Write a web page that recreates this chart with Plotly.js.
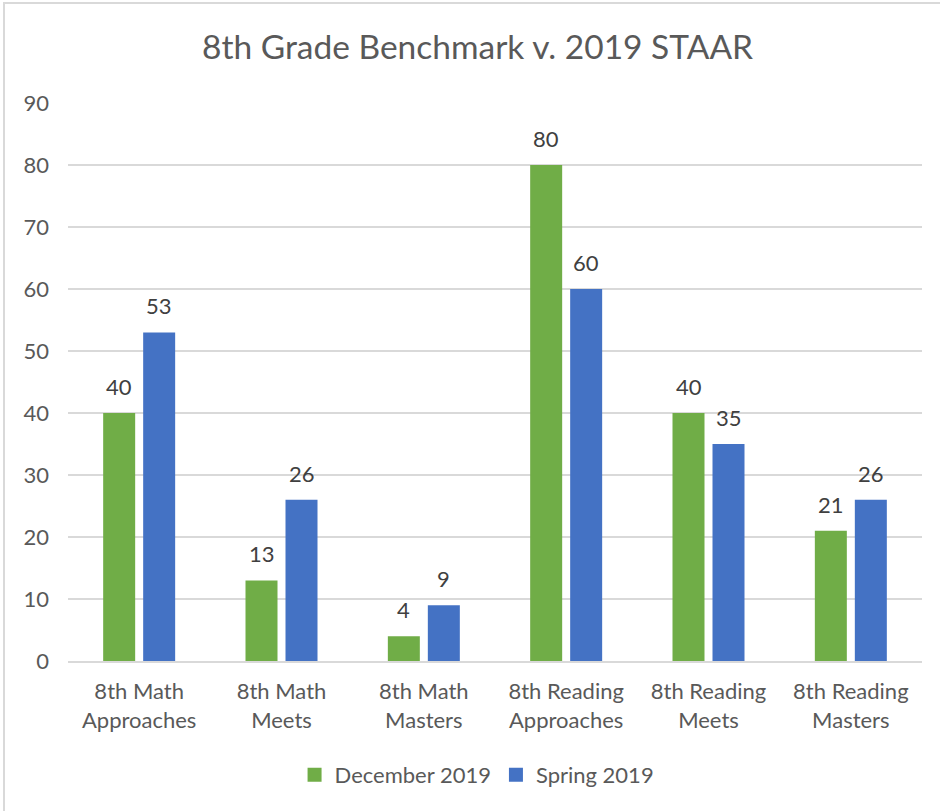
<!DOCTYPE html>
<html>
<head>
<meta charset="utf-8">
<script src="https://cdn.plot.ly/plotly-3.0.1.min.js"></script>
<style>
  html, body { margin: 0; padding: 0; background: #fff; }
  #wrap { position: relative; width: 940px; height: 811px; }
  #chart { position: absolute; left: 0; top: 0; width: 940px; height: 811px; }
  #frame { position: absolute; left: 3px; top: 2px; width: 960px; height: 840px;
           border-left: 2px solid #d9d9d9; border-top: 2px solid #d9d9d9; pointer-events: none; }
</style>
</head>
<body>
<div id="wrap">
  <div id="chart"></div>
  <div id="frame"></div>
</div>
<script>
const categories = [
  "8th Math<br>Approaches",
  "8th Math<br>Meets",
  "8th Math<br>Masters",
  "8th Reading<br>Approaches",
  "8th Reading<br>Meets",
  "8th Reading<br>Masters"
];
const december2019 = [40, 13, 4, 80, 40, 21];
const spring2019 = [53, 26, 9, 60, 35, 26];
const seriesNames = ["December 2019", "Spring 2019"];
const yTicks = [0, 10, 20, 30, 40, 50, 60, 70, 80, 90];

const FONT = "Lato, 'Open Sans', sans-serif";
const green = "#70AD47";
const blue = "#4472C4";
const colors = [green, blue];

const traces = [
  { type: "bar", name: seriesNames[0], x: categories, y: december2019,
    marker: { color: green }, hoverinfo: "y", showlegend: false },
  { type: "bar", name: seriesNames[1], x: categories, y: spring2019,
    marker: { color: blue }, hoverinfo: "y", showlegend: false }
];
// legend-only entries with square swatches
seriesNames.forEach((n, i) => {
  traces.push({ type: "scatter", mode: "markers", name: n, x: [null], y: [null],
    marker: { symbol: "square", size: 14, color: colors[i] }, showlegend: true,
    hoverinfo: "skip" });
});

const annotations = [];
[december2019, spring2019].forEach((vals, si) => {
  vals.forEach((v, i) => {
    annotations.push({
      x: categories[i], y: v, xref: "x", yref: "y",
      text: String(v), showarrow: false,
      xshift: si === 0 ? -20 : 20, yshift: 11, yanchor: "bottom",
      font: { family: FONT, size: 22, color: "#404040" }
    });
  });
});

const layout = {
  width: 940, height: 811,
  paper_bgcolor: "#ffffff", plot_bgcolor: "#ffffff",
  margin: { l: 68, r: 18, t: 103, b: 150 },
  title: { text: "8th Grade Benchmark v. 2019 STAAR",
           font: { family: FONT, size: 33.5, color: "#595959" },
           x: 0.508, xref: "container", xanchor: "center", y: 0.942, yanchor: "middle" },
  barmode: "group", bargap: 0.438, bargroupgap: 0.2,
  xaxis: { type: "category", tickfont: { family: FONT, size: 22, color: "#595959" },
           showgrid: false, showline: true, linecolor: "#d9d9d9", linewidth: 1.5,
           ticks: "", ticklabelstandoff: 10, fixedrange: true },
  yaxis: { range: [0, 90], tickvals: yTicks, ticktext: yTicks.map(String),
           tickfont: { family: FONT, size: 22, color: "#595959" },
           showgrid: true, gridcolor: "#d9d9d9", gridwidth: 1.5,
           zeroline: false, showline: false, ticks: "", ticklabelstandoff: 18, fixedrange: true },
  legend: { orientation: "h", x: 0.479, xanchor: "center", y: -0.204, yanchor: "middle",
            font: { family: FONT, size: 22, color: "#595959" }, traceorder: "normal" },
  annotations: annotations,
  showlegend: true
};

Plotly.newPlot("chart", traces, layout, { displayModeBar: false, staticPlot: true });
</script>
</body>
</html>
